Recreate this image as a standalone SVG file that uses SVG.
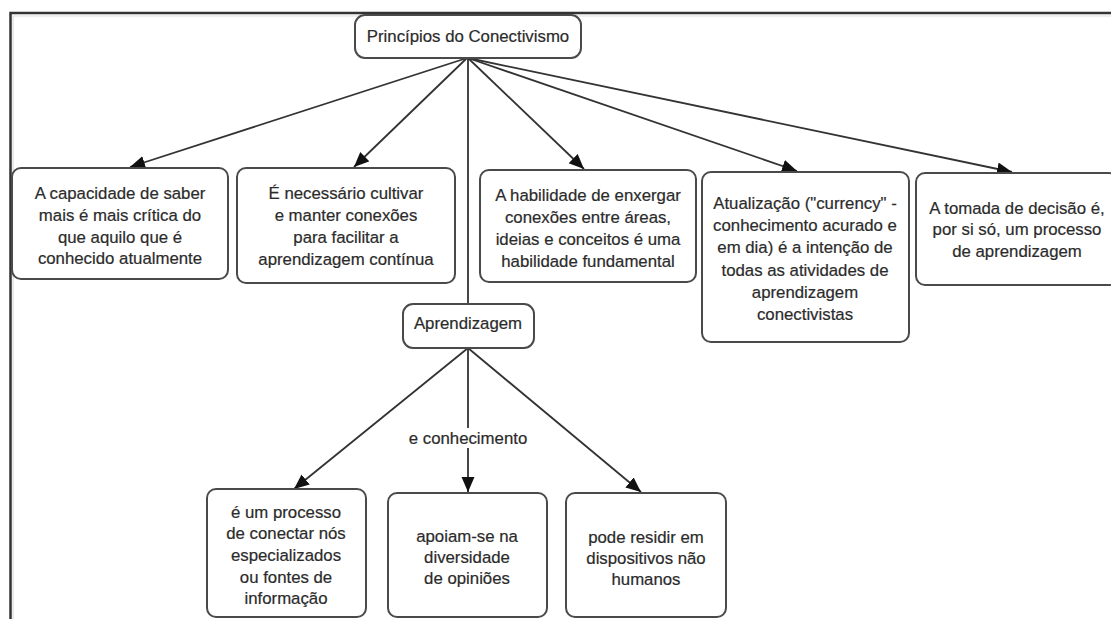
<svg xmlns="http://www.w3.org/2000/svg" width="1111" height="619" viewBox="0 0 1111 619">
  <style>
    .box { fill: #ffffff; stroke: #4a4a4a; stroke-width: 2; }
    .t { font-family: "Liberation Sans", Arial, sans-serif; font-size: 16.8px; fill: #2b2b2b; text-anchor: middle; stroke: #2b2b2b; stroke-width: 0.2; }
    .edge { stroke: #333333; stroke-width: 1.8; fill: none; }
    .frame { stroke: #333333; stroke-width: 2.5; fill: none; }
  </style>
  <defs>
    <marker id="arrow" markerUnits="userSpaceOnUse" markerWidth="16" markerHeight="14" refX="15" refY="6.5" orient="auto">
      <path d="M0,0 L15,6.5 L0,13 Z" fill="#111111"/>
    </marker>
  </defs>
  <rect x="0" y="0" width="1111" height="619" fill="#ffffff"/>
  <g id="frame">
    <path class="frame" d="M10.5,619 L10.5,13 L1111,13"/>
    <path d="M13,619 L13,16 L1111,16" stroke="#dddddd" stroke-width="1.2" fill="none"/>
  </g>
  <g id="connectors">
    <line class="edge" x1="467" y1="58" x2="130" y2="167" marker-end="url(#arrow)"/>
    <line class="edge" x1="467" y1="58" x2="354" y2="167" marker-end="url(#arrow)"/>
    <line class="edge" x1="468" y1="58" x2="468" y2="304"/>
    <line class="edge" x1="468" y1="58" x2="584" y2="169" marker-end="url(#arrow)"/>
    <line class="edge" x1="468" y1="58" x2="797" y2="171" marker-end="url(#arrow)"/>
    <line class="edge" x1="468" y1="58" x2="1012" y2="172" marker-end="url(#arrow)"/>
    <line class="edge" x1="468" y1="348" x2="294" y2="489" marker-end="url(#arrow)"/>
    <line class="edge" x1="468" y1="348" x2="468" y2="492" marker-end="url(#arrow)"/>
    <line class="edge" x1="468" y1="348" x2="641" y2="492" marker-end="url(#arrow)"/>
    <g id="label-e-conhecimento">
      <rect x="406" y="428" width="124" height="20" fill="#ffffff"/>
      <text class="t" x="468" y="444">e conhecimento</text>
    </g>
  </g>
  <g id="root">
    <rect class="box" x="355" y="15" width="226" height="43" rx="10"/>
    <text class="t" x="468" y="42">Princípios do Conectivismo</text>
  </g>
  <g id="p1">
    <rect class="box" x="12" y="168" width="216" height="111" rx="9"/>
    <text class="t" x="120" y="199">A capacidade de saber</text>
    <text class="t" x="120" y="221">mais é mais crítica do</text>
    <text class="t" x="120" y="243">que aquilo que é</text>
    <text class="t" x="120" y="264">conhecido atualmente</text>
  </g>
  <g id="p2">
    <rect class="box" x="237" y="168" width="218" height="115" rx="9"/>
    <text class="t" x="346" y="199">É necessário cultivar</text>
    <text class="t" x="346" y="221">e manter conexões</text>
    <text class="t" x="346" y="243">para facilitar a</text>
    <text class="t" x="346" y="265">aprendizagem contínua</text>
  </g>
  <g id="p3">
    <rect class="box" x="480" y="170" width="216" height="112" rx="9"/>
    <text class="t" x="588" y="201">A habilidade de enxergar</text>
    <text class="t" x="588" y="223">conexões entre áreas,</text>
    <text class="t" x="588" y="245">ideias e conceitos é uma</text>
    <text class="t" x="588" y="267">habilidade fundamental</text>
  </g>
  <g id="p4">
    <rect class="box" x="702" y="172" width="207" height="170" rx="9"/>
    <text class="t" x="805" y="209">Atualização ("currency" -</text>
    <text class="t" x="805" y="231">conhecimento acurado e</text>
    <text class="t" x="805" y="253">em dia) é a intenção de</text>
    <text class="t" x="805" y="276">todas as atividades de</text>
    <text class="t" x="805" y="298">aprendizagem</text>
    <text class="t" x="805" y="320">conectivistas</text>
  </g>
  <g id="p5">
    <rect class="box" x="916" y="173" width="202" height="112" rx="9"/>
    <text class="t" x="1017" y="214">A tomada de decisão é,</text>
    <text class="t" x="1017" y="235">por si só, um processo</text>
    <text class="t" x="1017" y="257">de aprendizagem</text>
  </g>
  <g id="aprendizagem">
    <rect class="box" x="403" y="304" width="131" height="44" rx="10"/>
    <text class="t" x="468" y="329">Aprendizagem</text>
  </g>
  <g id="a1">
    <rect class="box" x="207" y="489" width="159" height="128" rx="9"/>
    <text class="t" x="286" y="518">é um processo</text>
    <text class="t" x="286" y="539">de conectar nós</text>
    <text class="t" x="286" y="561">especializados</text>
    <text class="t" x="286" y="583">ou fontes de</text>
    <text class="t" x="286" y="604">informação</text>
  </g>
  <g id="a2">
    <rect class="box" x="388" y="493" width="159" height="124" rx="9"/>
    <text class="t" x="467" y="542">apoiam-se na</text>
    <text class="t" x="467" y="563">diversidade</text>
    <text class="t" x="467" y="584">de opiniões</text>
  </g>
  <g id="a3">
    <rect class="box" x="566" y="493" width="160" height="124" rx="9"/>
    <text class="t" x="646" y="543">pode residir em</text>
    <text class="t" x="646" y="564">dispositivos não</text>
    <text class="t" x="646" y="585">humanos</text>
  </g>
</svg>
